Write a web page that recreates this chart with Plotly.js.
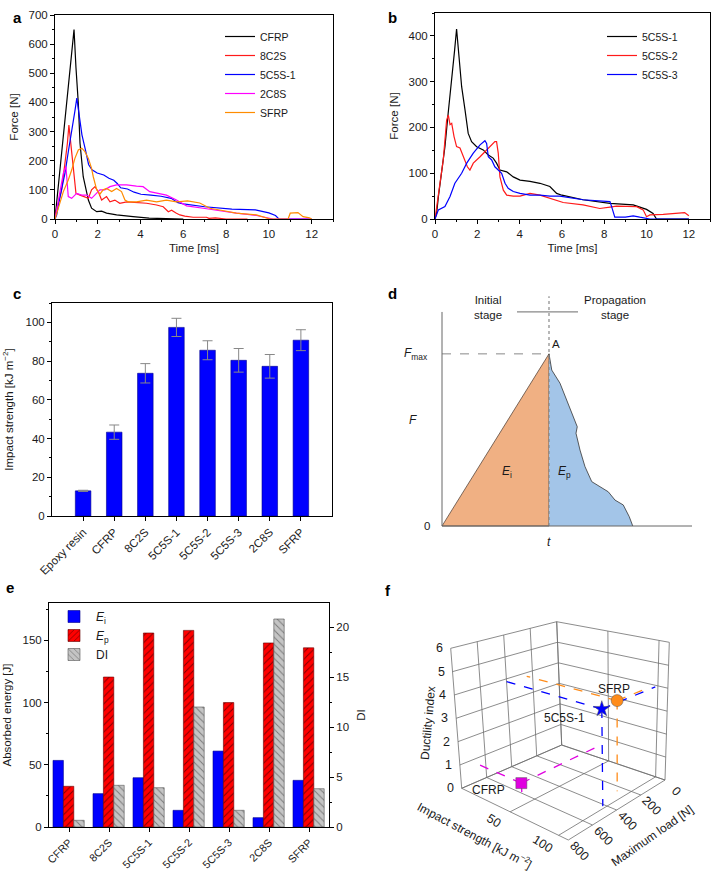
<!DOCTYPE html>
<html><head><meta charset="utf-8">
<script src="https://cdn.plot.ly/plotly-3.0.1.min.js"></script>
<style>html,body{margin:0;padding:0;background:#fff}#chart{width:711px;height:871px}</style>
</head><body><div id="chart"></div>
<script>
// ---------- Panel a / b : force-time curves ----------
const cfrp_t = [0, 0.3, 0.6, 0.89, 0.98, 1.09, 1.17, 1.32, 1.56, 1.71, 1.95, 2.18, 2.41, 2.88, 3.65, 4.4, 5.2, 6.0];
const cfrp_F = [0, 215, 430, 650, 520, 397, 260, 145, 65, 37, 25, 27, 20, 14, 8, 3, 1, 0];

const s8c2s_t = [0, 0.08, 0.31, 0.47, 0.58, 0.65, 0.73, 0.82, 0.89, 0.98, 1.17, 1.32, 1.56, 1.71, 1.87, 2.02, 2.18, 2.41, 2.57, 2.8, 3.03, 3.35, 3.81, 4.28, 4.75, 5.06, 5.3, 5.45, 5.68, 5.84, 6.07, 6.46, 7.08, 7.2, 7.5, 8.0, 9.0];
const s8c2s_F = [0, 31, 100, 191, 260, 322, 260, 202, 145, 88, 82, 77, 71, 100, 111, 94, 65, 77, 59, 65, 54, 59, 56, 54, 48, 42, 25, 30, 20, 14, 10, 6, 6, 2, 4, 0, 0];

const s5c5s1_t = [0, 0.08, 0.16, 0.31, 0.47, 0.62, 0.79, 0.93, 1.02, 1.15, 1.26, 1.42, 1.57, 1.73, 1.97, 2.28, 2.52, 2.75, 2.91, 3.07, 3.39, 3.7, 4.02, 4.49, 4.96, 5.43, 5.75, 6.0, 7.0, 8.27, 9.37, 10.0, 10.31, 10.47, 11.0, 12.0];
const s5c5s1_F = [0, 14, 49, 100, 158, 230, 300, 370, 415, 355, 289, 238, 187, 169, 158, 151, 140, 133, 122, 107, 103, 92, 85, 82, 78, 71, 56, 52, 42, 34, 31, 21, 12, 0, 0, 0];

const s2c8s_t = [0, 0.1, 0.23, 0.39, 0.51, 0.62, 0.78, 1.01, 1.25, 1.48, 1.71, 1.87, 2.1, 2.33, 2.57, 2.88, 3.35, 3.81, 4.12, 4.43, 4.75, 5.21, 5.68, 6.15, 6.93, 7.7, 8.48, 9.42, 9.88, 10.2, 12.0];
const s2c8s_F = [0, 40, 100, 157, 180, 77, 71, 88, 82, 82, 71, 82, 100, 100, 111, 117, 117, 113, 111, 94, 88, 82, 65, 45, 37, 28, 20, 12, 4, 0, 0];

const sfrp_t = [0, 0.16, 0.39, 0.62, 0.78, 0.93, 1.09, 1.25, 1.4, 1.56, 1.71, 1.79, 1.95, 2.1, 2.25, 2.41, 2.65, 2.88, 3.11, 3.27, 3.42, 3.81, 4.28, 4.75, 5.21, 5.68, 6.2, 6.77, 7.24, 7.7, 8.48, 9.42, 9.88, 10.05, 10.9, 11.0, 11.36, 11.6, 11.9, 12.0];
const sfrp_F = [0, 42, 94, 134, 168, 208, 237, 243, 231, 208, 174, 145, 100, 85, 100, 105, 94, 105, 94, 65, 59, 59, 65, 59, 65, 59, 62, 55, 37, 31, 20, 14, 2, 0, 0, 20, 22, 8, 4, 0];

const s5c5s2_t = [0, 0.16, 0.39, 0.55, 0.63, 0.71, 0.79, 0.9, 1.02, 1.18, 1.34, 1.53, 1.65, 1.81, 2.13, 2.44, 2.83, 2.91, 2.99, 3.07, 3.23, 3.39, 3.7, 4.02, 4.49, 4.96, 5.43, 5.9, 6.06, 7.0, 7.79, 8.27, 8.58, 9.53, 9.84, 10.0, 10.16, 10.79, 11.57, 11.8, 12.0];
const s5c5s2_F = [0, 56, 129, 216, 227, 206, 209, 180, 158, 155, 136, 114, 107, 122, 136, 151, 169, 169, 144, 92, 63, 52, 50, 50, 56, 52, 45, 38, 36, 31, 23, 26, 28, 27, 20, 5, 9, 10, 14, 14, 7];

const s5c5s3_t = [0, 0.16, 0.47, 0.71, 0.94, 1.26, 1.5, 1.81, 2.13, 2.36, 2.44, 2.52, 2.68, 2.83, 2.99, 3.15, 3.31, 3.46, 3.7, 4.02, 4.49, 4.96, 5.43, 5.9, 7.0, 8.27, 8.35, 8.5, 9.0, 9.37, 9.68, 10.16, 12.0];
const s5c5s3_F = [0, 20, 27, 49, 78, 100, 122, 144, 162, 171, 165, 136, 129, 114, 107, 100, 78, 67, 60, 56, 52, 52, 50, 50, 42, 38, 27, 4, 4, 7, 4, 0, 0];

// ---------- Panel c : impact strength ----------
const c_categories = ['Epoxy resin', 'CFRP', '8C2S', '5C5S-1', '5C5S-2', '5C5S-3', '2C8S', 'SFRP'];
const c_strength = [13.0, 43.3, 73.7, 97.4, 85.6, 80.4, 77.3, 90.8];
const c_error = [0.3, 3.7, 5.0, 4.7, 4.9, 6.1, 6.1, 5.4];

// ---------- Panel d : schematic ----------
const d_initial_t = [0, 4.28, 4.28, 0];
const d_initial_F = [0, 8.5, 0, 0];
const d_prop_t = [4.28, 4.39, 4.72, 5.05, 5.25, 5.41, 5.36, 5.52, 5.72, 5.99, 6.32, 6.65, 6.92, 7.25, 7.49, 7.63];
const d_prop_F = [8.5, 7.70, 7.05, 6.06, 5.40, 4.90, 4.58, 3.75, 2.93, 2.19, 1.94, 1.69, 1.28, 1.04, 0.46, 0];

// ---------- Panel e : absorbed energy ----------
const e_categories = ['CFRP', '8C2S', '5C5S-1', '5C5S-2', '5C5S-3', '2C8S', 'SFRP'];
const e_Ei = [53.5, 26.8, 39.6, 13.4, 61.0, 7.5, 37.5];
const e_Ep = [32.7, 120.5, 155.9, 158.0, 100.0, 147.9, 144.0];
const e_DI = [0.67, 4.17, 3.93, 12.0, 1.67, 20.8, 3.83];

// ---------- Panel f : 3D summary ----------
const f_names = ['CFRP', '5C5S-1', 'SFRP'];
const f_maxload = [650, 415, 245];
const f_impact = [43.3, 97.4, 90.8];
const f_ductility = [0.67, 3.93, 3.83];
const f_load_ticks = [0, 200, 400, 600, 800];
const f_impact_ticks = [50, 100];
const f_duct_ticks = [0, 1, 2, 3, 4, 5, 6];

const FONT = 'Liberation Sans, Arial, Helvetica, sans-serif';
const TXT = '#1a1a1a';
const W = 711, H = 871;
const px = v => v / W, py = v => 1 - v / H;

const traces = [];
const annotations = [];
function line(t, F, name, color, xa, ya, leg) {
  traces.push({x: t, y: F, name: name, type: 'scatter', mode: 'lines',
    line: {color: color, width: 1.2}, xaxis: xa, yaxis: ya, legend: leg, showlegend: true});
}
line(cfrp_t, cfrp_F, 'CFRP', '#000000', 'x', 'y', 'legend');
line(s8c2s_t, s8c2s_F, '8C2S', '#ff1a1a', 'x', 'y', 'legend');
line(s5c5s1_t, s5c5s1_F, '5C5S-1', '#0000ff', 'x', 'y', 'legend');
line(s2c8s_t, s2c8s_F, '2C8S', '#ff00ff', 'x', 'y', 'legend');
line(sfrp_t, sfrp_F, 'SFRP', '#ff8c00', 'x', 'y', 'legend');

line(s5c5s1_t, s5c5s1_F, '5C5S-1', '#000000', 'x2', 'y2', 'legend2');
line(s5c5s2_t, s5c5s2_F, '5C5S-2', '#ff1a1a', 'x2', 'y2', 'legend2');
line(s5c5s3_t, s5c5s3_F, '5C5S-3', '#0000ff', 'x2', 'y2', 'legend2');

// panel c bars
traces.push({type: 'bar', x: c_categories, y: c_strength, xaxis: 'x3', yaxis: 'y3', width: 0.5,
  marker: {color: '#0000ff', line: {color: '#00008b', width: 0.6}}, showlegend: false,
  error_y: {type: 'data', array: c_error, visible: true, color: '#888888', thickness: 1, width: 5}});

// panel d
const tPeak = d_prop_t[0], Fmax = d_prop_F[0];
traces.push({type: 'scatter', x: d_initial_t, y: d_initial_F, xaxis: 'x4', yaxis: 'y4', mode: 'lines',
  fill: 'toself', fillcolor: '#f0b083', line: {color: '#5a4a40', width: 0.8}, showlegend: false});
traces.push({type: 'scatter', x: d_prop_t.concat([tPeak]), y: d_prop_F.concat([0]), xaxis: 'x4', yaxis: 'y4',
  mode: 'lines', fill: 'toself', fillcolor: '#a3c5e8', line: {width: 0}, showlegend: false});
traces.push({type: 'scatter', x: d_prop_t, y: d_prop_F, xaxis: 'x4', yaxis: 'y4', mode: 'lines',
  line: {color: '#333', width: 0.8}, showlegend: false});
traces.push({type: 'scatter', x: [tPeak, tPeak], y: [0, 11.35], xaxis: 'x4', yaxis: 'y4', mode: 'lines',
  line: {color: '#888', width: 1.2, dash: 'dot'}, showlegend: false});
traces.push({type: 'scatter', x: [0, tPeak], y: [Fmax, Fmax], xaxis: 'x4', yaxis: 'y4', mode: 'lines',
  line: {color: '#888', width: 1, dash: 'dash'}, showlegend: false});

// panel e
traces.push({type: 'bar', name: '<i>E</i><sub>i</sub>', x: e_categories, y: e_Ei, xaxis: 'x5', yaxis: 'y5',
  width: 0.26, offset: -0.4, marker: {color: '#0000ff', line: {color: '#00008b', width: 0.6}}, legend: 'legend3'});
traces.push({type: 'bar', name: '<i>E</i><sub>p</sub>', x: e_categories, y: e_Ep, xaxis: 'x5', yaxis: 'y5',
  width: 0.26, offset: -0.14, marker: {color: '#ff0000', line: {color: '#600', width: 0.6},
  pattern: {shape: '/', fillmode: 'overlay', fgcolor: '#000', size: 5, solidity: 0.2}}, legend: 'legend3'});
traces.push({type: 'bar', name: 'DI', x: e_categories, y: e_DI, xaxis: 'x5', yaxis: 'y6',
  width: 0.26, offset: 0.12, marker: {color: '#c4c4c4', line: {color: '#555', width: 0.6},
  pattern: {shape: '\\', fillmode: 'overlay', fgcolor: '#333', size: 5, solidity: 0.2}}, legend: 'legend3'});

// panel f : 3D box drawn through a perspective-like projection onto a 2D axis (x6/y7)
const F_BOX = {load: 800, impact: 110, duct: 6};
const F_CAM = { // screen position of the 8 corners of the box [load frac, impact frac, ductility frac]
  '000': [561.7, 745], '100': [461.7, 788.3], '010': [665, 780], '110': [568.3, 840],
  '001': [556.7, 621.7], '101': [450.7, 648.3], '011': [669.3, 642.3], '111': [563, 678]
};
function proj(L, I, D) {
  const u = L / F_BOX.load, v = I / F_BOX.impact, w = D / F_BOX.duct;
  let X = 0, Y = 0;
  for (const key in F_CAM) {
    const a = +key[0], b = +key[1], c = +key[2];
    const wt = (a ? u : 1 - u) * (b ? v : 1 - v) * (c ? w : 1 - w);
    X += wt * F_CAM[key][0]; Y += wt * F_CAM[key][1];
  }
  return [X, Y];
}
const gx = [], gy = [];
function seg(p, q) { const a = proj(...p), b = proj(...q); gx.push(a[0], b[0], null); gy.push(a[1], b[1], null); }
const Lm = F_BOX.load, Im = F_BOX.impact, Dm = F_BOX.duct;
const impGrid = [0].concat(f_impact_ticks, [Im]);
f_load_ticks.forEach(L => { seg([L, 0, 0], [L, 0, Dm]); seg([L, 0, 0], [L, Im, 0]); });
impGrid.forEach(I => { seg([0, I, 0], [0, I, Dm]); seg([0, I, 0], [Lm, I, 0]); });
f_duct_ticks.forEach(D => { seg([0, 0, D], [Lm, 0, D]); seg([0, 0, D], [0, Im, D]); });
traces.push({type: 'scatter', mode: 'lines', x: gx, y: gy, xaxis: 'x6', yaxis: 'y7',
  line: {color: '#6f6f6f', width: 0.8}, showlegend: false, hoverinfo: 'skip'});

const fColors = ['#e000e0', '#0000ff', '#ff8c1a'];
const fSymbols = ['square', 'star', 'circle'];
const fSizes = [11, 12, 12];
for (let i = 0; i < f_names.length; i++) {
  const L = f_maxload[i], I = f_impact[i], D = f_ductility[i];
  const ends = [[L, I, 0], [0, I, D], [L, 0, D]];
  ends.forEach(e => {
    const a = proj(L, I, D), b = proj(...e);
    traces.push({type: 'scatter', mode: 'lines', x: [a[0], b[0]], y: [a[1], b[1]], xaxis: 'x6', yaxis: 'y7',
      line: {color: fColors[i], width: 1.3, dash: 'dash'}, showlegend: false, hoverinfo: 'skip'});
  });
}
for (let i = 0; i < f_names.length; i++) {
  const p = proj(f_maxload[i], f_impact[i], f_ductility[i]);
  traces.push({type: 'scatter', mode: 'markers', x: [p[0]], y: [p[1]], xaxis: 'x6', yaxis: 'y7', name: f_names[i],
    marker: {color: fColors[i], size: fSizes[i], symbol: fSymbols[i], line: {width: 0.5, color: '#555'}}, showlegend: false});
}
const fLabelShift = [[-33, 7], [-37, 9], [-3, -12]];
for (let i = 0; i < f_names.length; i++) {
  const p = proj(f_maxload[i], f_impact[i], f_ductility[i]);
  annotations.push({text: f_names[i], x: p[0] + fLabelShift[i][0], y: p[1] + fLabelShift[i][1], xref: 'x6', yref: 'y7',
    showarrow: false, font: {size: 12}});
}
f_duct_ticks.forEach(D => {
  const p = proj(Lm, 0, D);
  annotations.push({text: String(D), x: p[0] - 6, y: p[1], xref: 'x6', yref: 'y7', xanchor: 'right', showarrow: false, font: {size: 12.5}});
});
f_impact_ticks.forEach(I => {
  const p = proj(Lm, I, 0);
  annotations.push({text: String(I), x: p[0] - 16, y: p[1] + 9, xref: 'x6', yref: 'y7', textangle: 32, showarrow: false, font: {size: 12.5}});
});
f_load_ticks.forEach(L => {
  const p = proj(L, Im, 0);
  annotations.push({text: String(L), x: p[0] + 11, y: p[1] + 11, xref: 'x6', yref: 'y7', textangle: 45, showarrow: false, font: {size: 12.5}});
});
annotations.push({text: 'Ductility index', x: 428, y: 723, xref: 'x6', yref: 'y7', textangle: -85, showarrow: false, font: {size: 12}});
annotations.push({text: 'Impact strength [kJ m<sup>−2</sup>]', x: 475, y: 835, xref: 'x6', yref: 'y7', textangle: 28, showarrow: false, font: {size: 12}});
annotations.push({text: 'Maximum load [N]', x: 652, y: 836, xref: 'x6', yref: 'y7', textangle: -35, showarrow: false, font: {size: 12}});

const axBase = {showline: true, linecolor: '#000', linewidth: 1, mirror: true, ticks: 'outside', ticklen: 4,
  tickcolor: '#000', showgrid: false, zeroline: false, tickfont: {size: 11.5, color: TXT, family: FONT}};
const minorX = {ticks: 'outside', ticklen: 2, tickcolor: '#000', showgrid: false};

// panel d text
annotations.push(
  {text: 'Initial<br>stage', x: 1.84, y: 10.8, xref: 'x4', yref: 'y4', showarrow: false, font: {size: 11.5}},
  {text: 'Propagation<br>stage', x: 6.92, y: 10.8, xref: 'x4', yref: 'y4', showarrow: false, font: {size: 11.5}},
  {text: 'A', x: 4.56, y: 9.0, xref: 'x4', yref: 'y4', showarrow: false, font: {size: 11.5}},
  {text: '<i>F</i><sub>max</sub>', x: -0.5, y: Fmax, xref: 'x4', yref: 'y4', xanchor: 'right', showarrow: false, font: {size: 12}},
  {text: '0', x: -0.4, y: 0, xref: 'x4', yref: 'y4', xanchor: 'right', showarrow: false, font: {size: 11.5}},
  {text: '<i>F</i>', x: -1.16, y: 5.23, xref: 'x4', yref: 'y4', showarrow: false, font: {size: 12}},
  {text: '<i>t</i>', x: tPeak, y: -0.8, xref: 'x4', yref: 'y4', showarrow: false, font: {size: 12}},
  {text: '<i>E</i><sub>i</sub>', x: 2.6, y: 2.67, xref: 'x4', yref: 'y4', showarrow: false, font: {size: 12}},
  {text: '<i>E</i><sub>p</sub>', x: 4.88, y: 2.67, xref: 'x4', yref: 'y4', showarrow: false, font: {size: 12}}
);
// panel letters
[['a', 11, 7], ['b', 392, 7], ['c', 11, 283], ['d', 392, 283], ['e', 4, 598], ['f', 388, 601]].forEach(l =>
  annotations.push({text: '<b>' + l[0] + '</b>', x: px(l[1]), y: py(l[2]), xref: 'paper', yref: 'paper',
    showarrow: false, font: {size: 15, color: '#000'}}));

const layout = {
  width: W, height: H, margin: {l: 0, r: 0, t: 0, b: 0}, paper_bgcolor: '#fff', plot_bgcolor: 'rgba(0,0,0,0)',
  font: {family: FONT, size: 11, color: TXT}, showlegend: true, bargap: 0,
  xaxis: Object.assign({}, axBase, {domain: [px(55), px(333)], range: [0, 13], dtick: 2, minor: Object.assign({dtick: 1}, minorX),
    title: {text: 'Time [ms]', font: {size: 11.5}, standoff: 5}, anchor: 'y'}),
  yaxis: Object.assign({}, axBase, {domain: [py(219), py(15)], range: [0, 700], dtick: 100, minor: Object.assign({dtick: 50}, minorX),
    title: {text: 'Force [N]', font: {size: 11.5}, standoff: 7}, anchor: 'x'}),
  xaxis2: Object.assign({}, axBase, {domain: [px(435), px(710)], range: [0, 13], dtick: 2, minor: Object.assign({dtick: 1}, minorX),
    title: {text: 'Time [ms]', font: {size: 11.5}, standoff: 5}, anchor: 'y2'}),
  yaxis2: Object.assign({}, axBase, {domain: [py(219), py(13)], range: [0, 450], dtick: 100, minor: Object.assign({dtick: 50}, minorX),
    title: {text: 'Force [N]', font: {size: 11.5}, standoff: 7}, anchor: 'x2'}),
  xaxis3: Object.assign({}, axBase, {domain: [px(52), px(332)], type: 'category', range: [-1, 8], tickangle: -45, anchor: 'y3'}),
  yaxis3: Object.assign({}, axBase, {domain: [py(516), py(303)], range: [0, 110], dtick: 20, minor: Object.assign({dtick: 10}, minorX),
    title: {text: 'Impact strength [kJ m<sup>−2</sup>]', font: {size: 11.5}, standoff: 9}, anchor: 'x3'}),
  xaxis4: {domain: [px(379.5), px(692)], range: [-2.5, 10], visible: false, anchor: 'y4'},
  yaxis4: {domain: [py(550.3), py(283)], range: [-1.2, 12], visible: false, anchor: 'x4'},
  xaxis5: Object.assign({}, axBase, {domain: [px(49), px(329)], type: 'category', range: [-0.5, 6.5], tickangle: -45, anchor: 'y5',
    tickfont: {size: 10.8, color: TXT, family: FONT}}),
  yaxis5: Object.assign({}, axBase, {domain: [py(827), py(603)], range: [0, 180], dtick: 50, mirror: false,
    minor: Object.assign({dtick: 25}, minorX), title: {text: 'Absorbed energy [J]', font: {size: 11.5}, standoff: 8}, anchor: 'x5'}),
  yaxis6: Object.assign({}, axBase, {overlaying: 'y5', side: 'right', range: [0, 22.4], dtick: 5, mirror: false,
    minor: Object.assign({dtick: 2.5}, minorX), title: {text: 'DI', font: {size: 11.5}, standoff: 8}, anchor: 'x5'}),
  xaxis6: {domain: [px(420), 1], range: [420, 711], visible: false, anchor: 'y7'},
  yaxis7: {domain: [0, py(600)], range: [871, 600], visible: false, anchor: 'x6'},
  legend: {x: px(220), y: py(22), xanchor: 'left', yanchor: 'top', bgcolor: 'rgba(0,0,0,0)', font: {size: 10.5}, itemwidth: 30, tracegroupgap: 0},
  legend2: {x: px(602), y: py(22), xanchor: 'left', yanchor: 'top', bgcolor: 'rgba(0,0,0,0)', font: {size: 10.5}, itemwidth: 30},
  legend3: {x: px(52), y: py(602), xanchor: 'left', yanchor: 'top', bgcolor: 'rgba(0,0,0,0)', font: {size: 12}, itemwidth: 34},
  shapes: [
    {type: 'line', xref: 'x4', yref: 'y4', x0: 0, x1: 0, y0: 0, y1: 10.57, line: {color: '#666', width: 1}},
    {type: 'line', xref: 'x4', yref: 'y4', x0: 0, x1: 10, y0: 0, y1: 0, line: {color: '#666', width: 1}},
    {type: 'line', xref: 'x4', yref: 'y4', x0: 3.0, x1: 5.44, y0: 10.57, y1: 10.57, line: {color: '#888', width: 1.2}}
  ],
  annotations: annotations
};

Plotly.newPlot('chart', traces, layout, {displayModeBar: false, staticPlot: true});
</script></body></html>
